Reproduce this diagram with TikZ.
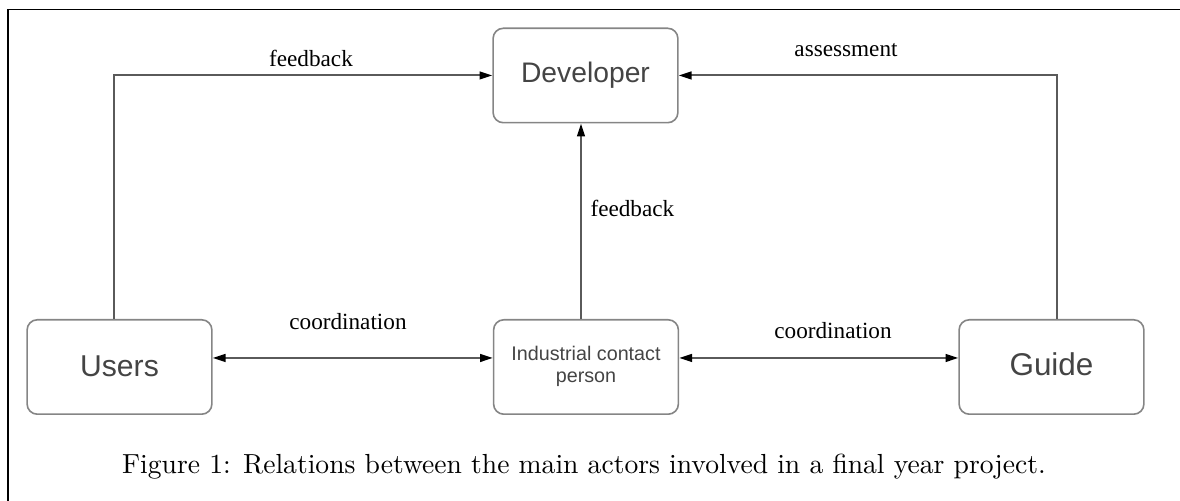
\documentclass[tikz,border=0pt]{standalone}
\usepackage{fontspec}
\usetikzlibrary{arrows.meta}
\newfontfamily\labfont{Liberation Serif}
\newfontfamily\boxfont{Liberation Sans}
\definecolor{linegray}{HTML}{5A5A5A}
\definecolor{boxgray}{HTML}{858585}
\definecolor{textgray}{HTML}{444444}
\begin{document}
\begin{tikzpicture}[x=0.375pt,y=-0.375pt,
  actor/.style={draw=boxgray,line width=0.6pt,rounded corners=3.8pt,
    minimum width=69.3pt,minimum height=35.4pt,inner sep=0pt,
    text=textgray,align=center,font=\boxfont},
  conn/.style={draw=linegray,line width=0.75pt},
  tip/.style={-{Triangle[length=4.8pt,width=2.9pt,color=black]}},
  dtip/.style={{Triangle[length=4.8pt,width=2.9pt,color=black]}-{Triangle[length=4.8pt,width=2.9pt,color=black]}},
  lab/.style={font=\labfont\fontsize{8.7pt}{10pt}\selectfont,inner sep=0pt,anchor=base}]
\useasboundingbox (0,0) rectangle (1180,501);
% frame
\draw[line width=0.5pt,black] (8,501) -- (8,9.5) -- (1180,9.5);
% boxes
\node[actor,font=\boxfont\fontsize{10.6pt}{12pt}\selectfont] (dev) at (585.5,75.5) {Developer};
\node[actor,font=\boxfont\fontsize{11.3pt}{13pt}\selectfont] (users) at (119.5,367) {\raisebox{0.5pt}{Users}};
\node[actor,font=\boxfont\fontsize{7.4pt}{8.6pt}\selectfont] (icp) at (586,367) {\raisebox{-1.5pt}{\begin{tabular}{@{}c@{}}Industrial contact\\[-0.4pt] person\end{tabular}}};
\node[actor,font=\boxfont\fontsize{11.8pt}{13pt}\selectfont] (guide) at (1051.5,367) {\raisebox{2.2pt}{Guide}};
% helper coordinates
\coordinate (row) at (0,358);
\coordinate (ucol) at (114,0);
\coordinate (mcol) at (581,0);
\coordinate (gcol) at (1057,0);
% connectors
\draw[conn,tip] (users.north -| ucol) |- (dev.west);
\draw[conn,tip] (guide.north -| gcol) |- (dev.east);
\draw[conn,tip] (icp.north -| mcol) -- (dev.south -| mcol);
\draw[conn,dtip] (users.east |- row) -- (icp.west |- row);
\draw[conn,dtip] (icp.east |- row) -- (guide.west |- row);
% labels
\node[lab] (l1) at (311,67) {feedback};
\node[lab] (l2) at (846,57) {assessment};
\node[lab,anchor=base west] (l3) at (590,217) {feedback};
\node[lab] (l4) at (348,330) {coordination};
\node[lab] (l5) at (833,339) {coordination};
% caption
\node[inner sep=0pt,anchor=base,font=\fontsize{10.35pt}{12pt}\selectfont] (cap) at (584,474) {Figure 1: Relations between the main actors involved in a final year project.};
\end{tikzpicture}
\end{document}
